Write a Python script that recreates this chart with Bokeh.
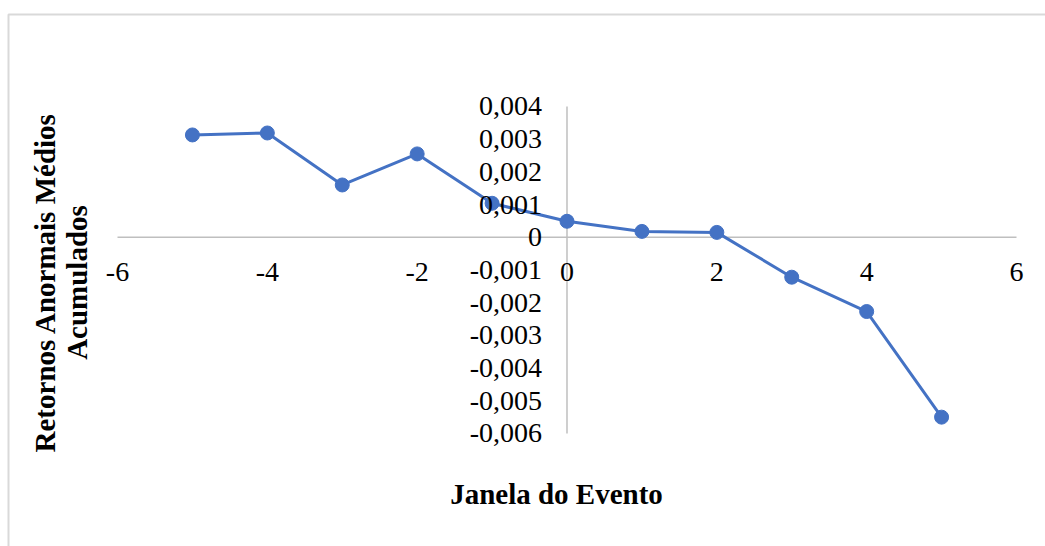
from math import pi

from bokeh.embed import file_html
from bokeh.resources import INLINE
from bokeh.plotting import figure
from bokeh.models import ColumnDataSource, Label, BoxAnnotation

# Event window (days) and cumulative average abnormal returns
janela = [-5, -4, -3, -2, -1, 0, 1, 2, 3, 4, 5]
carm = [0.00313, 0.00319, 0.00160, 0.00255, 0.00104, 0.00049,
        0.00018, 0.00015, -0.00122, -0.00227, -0.00550]

x_ticks = [-6, -4, -2, 0, 2, 4, 6]
x_labels = ["-6", "-4", "-2", "0", "2", "4", "6"]
y_ticks = [-0.006, -0.005, -0.004, -0.003, -0.002, -0.001,
           0.0, 0.001, 0.002, 0.003, 0.004]
y_labels = ["-0,006", "-0,005", "-0,004", "-0,003", "-0,002", "-0,001",
            "0", "0,001", "0,002", "0,003", "0,004"]

SERIES = "#4472C4"
AXIS = "#bfbfbf"
FONT = "Liberation Serif"
W, H = 1045, 546

# the plot frame fills the whole canvas; the ranges leave room for labels
p = figure(width=W, height=H, output_backend="svg", toolbar_location=None,
           x_range=(-7.5617, 6.3871), y_range=(-0.0094557, 0.0072416),
           x_axis_location=None, y_axis_location=None,
           min_border=0, background_fill_color="white",
           border_fill_color="white")
p.outline_line_color = None
p.grid.visible = False

# axes crossing at the origin
p.segment(x0=[min(x_ticks), 0], y0=[0, min(y_ticks)],
          x1=[max(x_ticks), 0], y1=[0, max(y_ticks)],
          line_color=AXIS, line_width=1.5)

# series
src = ColumnDataSource(dict(x=janela, y=carm))
p.line("x", "y", source=src, line_color=SERIES, line_width=3)
p.scatter("x", "y", source=src, size=14, fill_color=SERIES, line_color=SERIES)

# tick labels next to the axes
p.text(x=x_ticks, y=[0] * len(x_ticks), text=x_labels, y_offset=35,
       text_font=FONT, text_font_size="28px", text_color="black",
       text_align="center", text_baseline="middle")
p.text(x=[0] * len(y_ticks), y=y_ticks, text=y_labels, x_offset=-25,
       text_font=FONT, text_font_size="28px", text_color="black",
       text_align="right", text_baseline="middle")

# axis titles
p.add_layout(Label(x=556, y=H - 493, x_units="screen", y_units="screen",
                   text="Janela do Evento", text_font=FONT,
                   text_font_size="29px", text_font_style="bold",
                   text_color="black",
                   text_align="center", text_baseline="middle"))
p.add_layout(Label(x=60, y=H - 282, x_units="screen", y_units="screen",
                   angle=pi / 2, text="Retornos Anormais Médios\nAcumulados",
                   text_font=FONT, text_font_size="29px",
                   text_font_style="bold", text_color="black",
                   text_line_height=1.0,
                   text_align="center", text_baseline="middle"))

# chart area border
p.add_layout(BoxAnnotation(left=8, right=W + 50, top=H - 14, bottom=-50,
                           left_units="screen", right_units="screen",
                           top_units="screen", bottom_units="screen",
                           fill_color=None, fill_alpha=0,
                           line_color="#d9d9d9", line_alpha=1.0,
                           line_width=2))

open("out.html", "w").write(file_html(p, INLINE))
